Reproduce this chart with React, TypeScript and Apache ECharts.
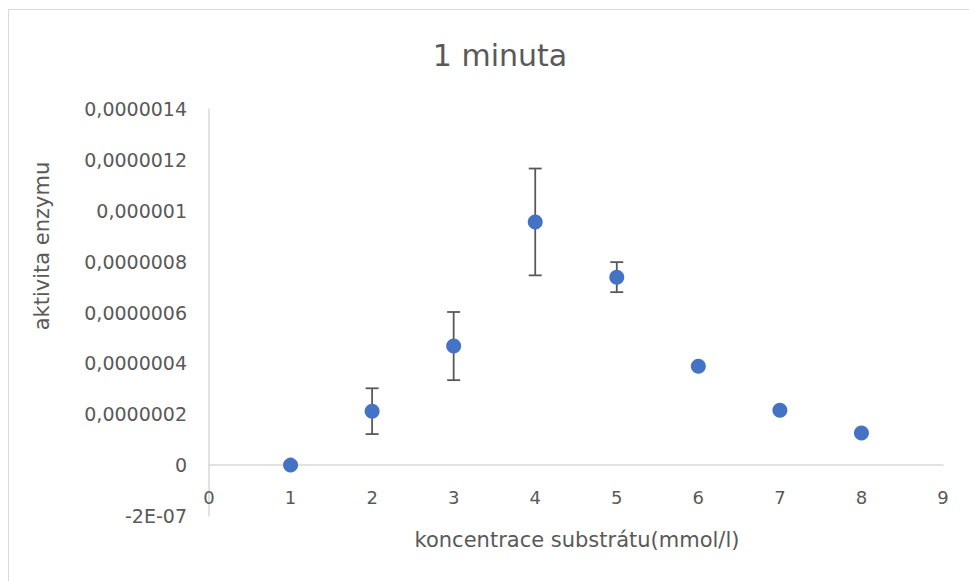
import React, { useEffect, useRef } from "react";
import * as echarts from "echarts";

const xValues = [1, 2, 3, 4, 5, 6, 7, 8];
const yValues = [0, 2.12e-7, 4.68e-7, 9.56e-7, 7.39e-7, 3.89e-7, 2.16e-7, 1.26e-7];
const errValues = [0, 0.9e-7, 1.34e-7, 2.1e-7, 0.59e-7, 0, 0, 0];

const titleText = "1 minuta";
const xName = "koncentrace substrátu(mmol/l)";
const yName = "aktivita enzymu";

const FONT = "'DejaVu Sans', sans-serif";

function fmtY(v: number): string {
  if (Math.abs(v + 2e-7) < 1e-12) return "-2E-07";
  if (Math.abs(v) < 1e-12) return "0";
  let s = v.toFixed(7);
  s = s.replace(/0+$/, "").replace(/\.$/, "");
  return s.replace(".", ",");
}

export default function App() {
  const ref = useRef<HTMLDivElement>(null);
  useEffect(() => {
    document.body.style.margin = "0";
    const chart = echarts.init(ref.current!, undefined, { renderer: "svg" });
    const scatterData = xValues.map((x, i) => [x, yValues[i]]);
    const errData = xValues
      .map((x, i) => [x, yValues[i] - errValues[i], yValues[i] + errValues[i]])
      .filter((d, i) => errValues[i] > 0);
    chart.setOption({
      animation: false,
      backgroundColor: "#ffffff",
      title: {
        text: titleText,
        left: 495,
        top: 35,
        textAlign: "center",
        textStyle: { fontFamily: FONT, fontSize: 30, fontWeight: "normal", color: "#595959" },
      },
      grid: { left: 209, right: 26, top: 109, bottom: 65 },
      xAxis: {
        type: "value",
        min: 0,
        max: 9,
        interval: 1,
        offset: -51,
        axisLine: { onZero: false, lineStyle: { color: "#d9d9d9", width: 1.5 } },
        axisTick: { show: false },
        splitLine: { show: false },
        axisLabel: { color: "#595959", fontFamily: FONT, fontSize: 18, margin: 23 },
      },
      yAxis: {
        type: "value",
        min: -2e-7,
        max: 1.4e-6,
        interval: 2e-7,
        axisLine: { show: true, onZero: false, lineStyle: { color: "#d9d9d9", width: 1.5 } },
        axisTick: { show: false },
        splitLine: { show: false },
        axisLabel: {
          color: "#595959",
          fontFamily: FONT,
          fontSize: 19,
          margin: 22,
          formatter: (v: number) => fmtY(v),
        },
      },
      graphic: [
        {
          type: "rect",
          shape: { x: 8.5, y: 9.5, width: 1100, height: 700 },
          style: { fill: "none", stroke: "#d9d9d9", lineWidth: 1 },
          silent: true,
          z: -10,
        },
        {
          type: "text",
          x: 42,
          y: 246,
          rotation: Math.PI / 2,
          style: {
            text: yName,
            fontFamily: FONT,
            fontSize: 21,
            fill: "#595959",
            align: "center",
            verticalAlign: "middle",
          },
        },
        {
          type: "text",
          x: 577,
          y: 540,
          style: {
            text: xName,
            fontFamily: FONT,
            fontSize: 21,
            fill: "#595959",
            align: "center",
            verticalAlign: "middle",
          },
        },
      ],
      series: [
        {
          type: "custom",
          data: errData,
          z: 1,
          renderItem: (params: any, api: any) => {
            const x = api.value(0);
            const lo = api.coord([x, api.value(1)]);
            const hi = api.coord([x, api.value(2)]);
            const hw = 6.5;
            const style = { stroke: "#595959", lineWidth: 1.8 };
            return {
              type: "group",
              children: [
                { type: "line", shape: { x1: lo[0], y1: lo[1], x2: hi[0], y2: hi[1] }, style },
                { type: "line", shape: { x1: lo[0] - hw, y1: lo[1], x2: lo[0] + hw, y2: lo[1] }, style },
                { type: "line", shape: { x1: hi[0] - hw, y1: hi[1], x2: hi[0] + hw, y2: hi[1] }, style },
              ],
            };
          },
        },
        {
          type: "scatter",
          data: scatterData,
          symbol: "circle",
          symbolSize: 15,
          z: 2,
          itemStyle: { color: "#4472C4", opacity: 1 },
        },
      ],
    });
    return () => chart.dispose();
  }, []);
  return <div ref={ref} style={{ width: 969, height: 581 }} />;
}
